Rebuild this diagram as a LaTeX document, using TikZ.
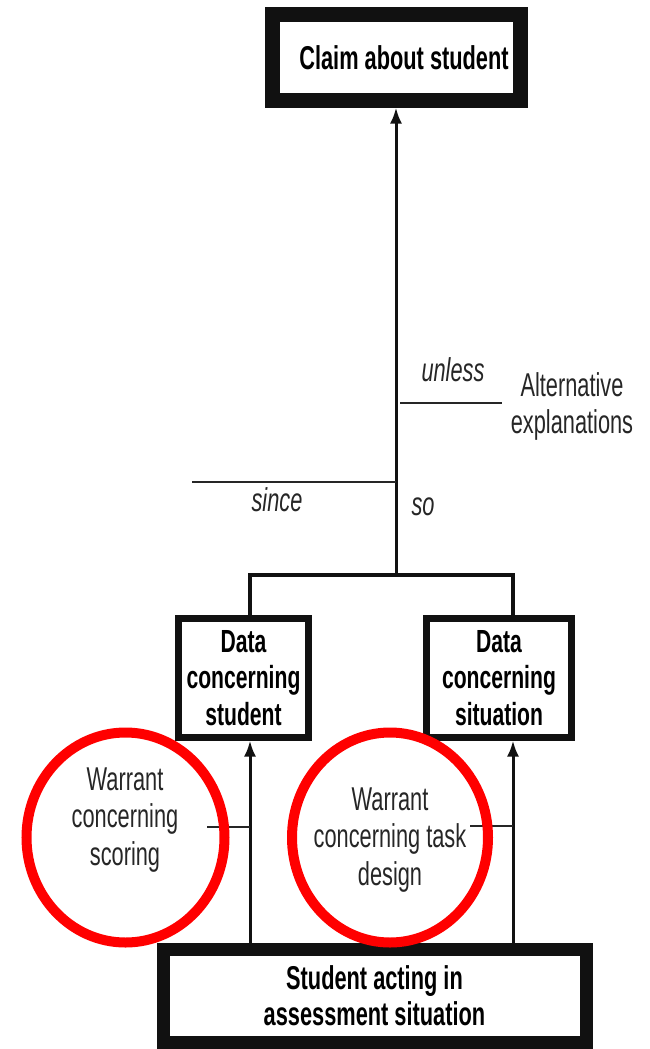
\documentclass[tikz,border=0pt]{standalone}
\usepackage{fontspec}
\setmainfont{Liberation Sans}[FakeStretch=0.66]
\usetikzlibrary{arrows.meta,positioning}
\definecolor{ink}{HTML}{111111}
\definecolor{soft}{HTML}{262626}
\definecolor{hilite}{HTML}{FF0000}
\tikzset{
  claimbox/.style={draw=ink, line width=15pt, minimum width=248pt, minimum height=85pt,
                   inner sep=0pt, font=\fontsize{33}{38}\selectfont\bfseries},
  databox/.style={draw=ink, line width=7pt, minimum height=118.5pt, inner sep=0pt,
                  align=center, font=\fontsize{32}{36.5}\selectfont\bfseries},
  groundbox/.style={draw=ink, line width=13pt, minimum width=423pt, minimum height=93pt,
                    inner sep=0pt, align=center, font=\fontsize{33}{36}\selectfont\bfseries},
  plain/.style={align=center, text=soft, inner sep=0pt, font=\fontsize{33}{37.5}\selectfont},
  cue/.style={text=soft, inner sep=0pt, font=\fontsize{33}{36}\selectfont\itshape},
  arrow/.style={-{Latex[length=16pt,width=12pt]}, line width=3pt, draw=ink},
  link/.style={line width=3.5pt, draw=ink},
  hair/.style={line width=2pt, draw=soft},
  halo/.style={draw=hilite, line width=10pt}
}
\begin{document}
\begin{tikzpicture}[x=1pt,y=-1pt]
  \useasboundingbox (0,0) rectangle (649,1049);
  % boxes
  \node[claimbox] (claim) at (396,57.5) {\hspace*{16pt}Claim about student};
  \node[databox, minimum width=130pt] (student) at (243.5,677.75) {Data\\concerning\\student};
  \node[databox, minimum width=145pt] (situation) at (499,677.75) {Data\\concerning\\situation};
  \node[groundbox] (ground) at (374.5,995.5) {Student acting in\\assessment situation};
  % argument spine
  \coordinate (fork) at (396,575);
  \coordinate (sleg) at (250,575);
  \coordinate (tleg) at (513,575);
  \draw[link] (student.north -| sleg) -- (sleg) -- (tleg) -- (situation.north -| tleg);
  \draw[arrow] (fork) -- (claim);
  \draw[arrow] (ground.north -| sleg) -- (student.south -| sleg);
  \draw[arrow] (ground.north -| tleg) -- (student.south -| tleg);
  % since / unless
  \coordinate (sincetip) at (192,482);
  \coordinate (unlesstip) at (502,403);
  \draw[hair] (sincetip) -- (sincetip -| fork);
  \draw[hair] ([xshift=4pt]unlesstip -| fork) -- (unlesstip);
  \node[cue] (since) at (277,500) {since};
  \node[cue] (so) at (423,507) {so};
  \node[cue] (unless) at (453,370) {unless};
  \node[plain, font=\fontsize{33}{37}\selectfont] (alt) at (572,406) {Alternative\\explanations};
  % warrants
  \coordinate (wleft) at (207,827);
  \coordinate (wright) at (470,826);
  \draw[hair] (wleft) -- (wleft -| sleg);
  \draw[hair] (wright) -- (wright -| tleg);
  \node[plain] (wscore) at (125,820) {Warrant\\concerning\\scoring};
  \node[plain] (wtask) at (390,840) {Warrant\\concerning task\\design};
  \draw[halo] (125.5,837.5) ellipse [x radius=99pt, y radius=105pt];
  \draw[halo] (390,837.5) ellipse [x radius=98pt, y radius=105pt];
\end{tikzpicture}
\end{document}
